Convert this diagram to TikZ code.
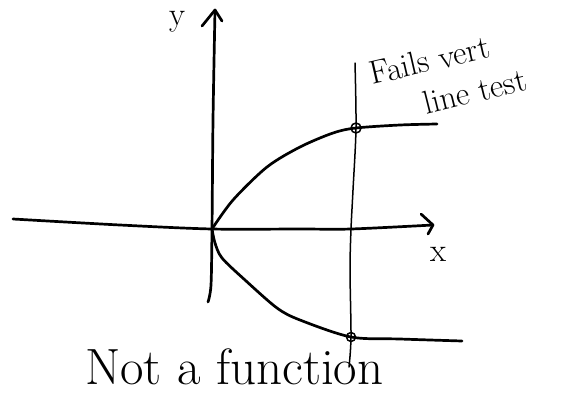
\documentclass[tikz,border=0pt]{standalone}
\begin{document}
\begin{tikzpicture}[x=1pt,y=-1pt,
  ink/.style={line width=2.7pt,line cap=round,line join=round},
  thin ink/.style={line width=1.5pt,line cap=round,line join=round},
  hand/.style={inner sep=0pt,font=\fontsize{33}{33}\selectfont}]
\useasboundingbox (0,0) rectangle (569,399);
% coordinates
\coordinate (O) at (212,229);
\coordinate (ytop) at (215,10);
\coordinate (ybot) at (208,302);
\coordinate (xleft) at (13,219);
\coordinate (xtip) at (433,225);
\coordinate (vtop) at (355,63);
\coordinate (vbot) at (349,367);
\coordinate (p1) at (356,128);
\coordinate (p2) at (351,337);
% y axis
\draw[ink] plot[smooth] coordinates {(ybot) (211,285) (212,229) (213,120) (ytop)};
\draw[ink] (202,26) -- (ytop) -- (222,21);
% x axis
\draw[ink] plot[smooth] coordinates {(xleft) (120,225) (O) (300,229) (351,229) (xtip)};
\draw[ink] (421,214) -- (xtip) -- (428,234);
% vertical line
\draw[thin ink] plot[smooth] coordinates {(vtop) (p1) (353,190) (351,229) (350,270) (p2) (vbot)};
% upper branch
\draw[ink] plot[smooth] coordinates {(O) (233,200) (267,167) (300,147) (333,133) (p1) (400,125) (437,124)};
% lower branch
\draw[ink] plot[smooth] coordinates {(O) (215,243) (222,258) (245,280) (277,308) (300,320) (p2) (400,339) (462,341)};
% intersection circles
\draw[thin ink] (p1) circle (5);
\draw[thin ink] (p2) circle (4.5);
% labels
\node[hand] (ylab) at (177,22) {y};
\node[hand] (xlab) at (438,254) {x};
\node[hand,rotate=13,anchor=base west] (fails) at (372,85) {Fails vert};
\node[hand,rotate=14,anchor=base west] (line) at (426,115) {line test};
\node[inner sep=0pt,font=\fontsize{51}{51}\selectfont,anchor=base west] (nf) at (85,384) {Not a function};
\end{tikzpicture}
\end{document}
